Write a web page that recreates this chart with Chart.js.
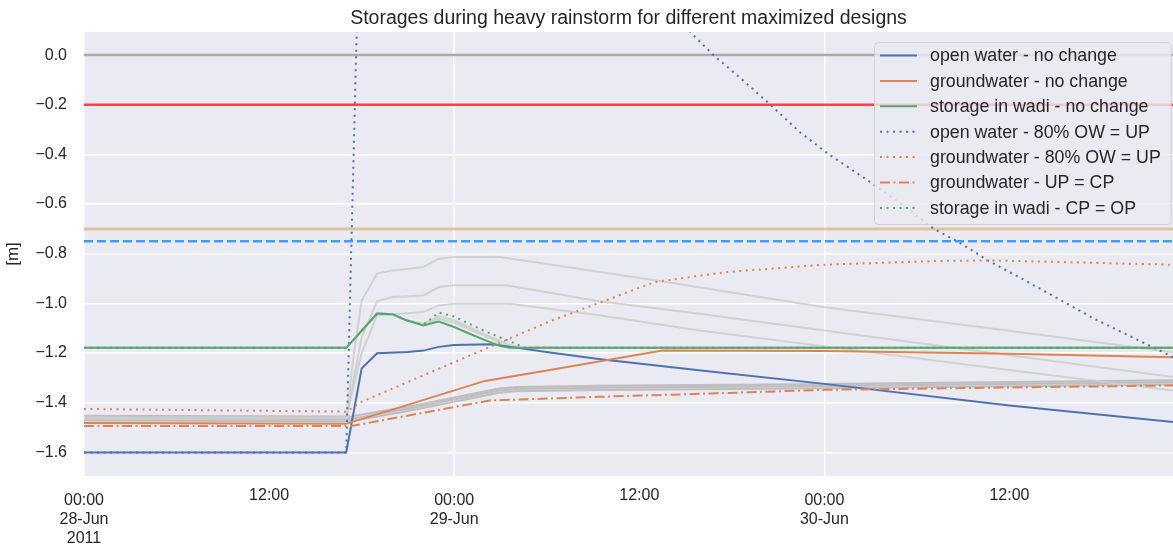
<!DOCTYPE html>
<html>
<head>
<meta charset="utf-8">
<script src="https://cdn.jsdelivr.net/npm/chart.js@4.4.1/dist/chart.umd.min.js"></script>
<style>
  html, body { margin: 0; padding: 0; background: #fff; }
  #wrap { width: 1173px; height: 549px; }
</style>
</head>
<body>
<div id="wrap"><canvas id="storageChart"></canvas></div>
<script>
// x values are hours since 28-Jun-2011 00:00
const xTickHours = [0, 12, 24, 36, 48, 60];
const xTickLabels = [['00:00', '28-Jun', '2011'], '12:00', ['00:00', '29-Jun'], '12:00', ['00:00', '30-Jun'], '12:00'];
const yTickValues = [0.0, -0.2, -0.4, -0.6, -0.8, -1.0, -1.2, -1.4, -1.6];

const legendLabels = [
  'open water - no change',
  'groundwater - no change',
  'storage in wadi - no change',
  'open water - 80% OW = UP',
  'groundwater - 80% OW = UP',
  'groundwater - UP = CP',
  'storage in wadi - CP = OP'
];

// reference levels [m]: surface, red limit, tan limit, dashed limit
const levelValues = [0.0, -0.2, -0.7, -0.75];

const openWaterNoChange = [[0, -1.6], [17, -1.6], [18, -1.262], [19, -1.201], [21, -1.196], [22, -1.19], [23, -1.175], [24, -1.167], [26.5, -1.164], [28, -1.178], [30.2, -1.198], [33.5, -1.225], [40, -1.27], [48, -1.324], [60, -1.411], [71, -1.48]];
const groundwaterNoChange = [[0, -1.482], [17, -1.485], [26, -1.312], [30.2, -1.268], [37.5, -1.19], [48, -1.192], [60, -1.203], [71, -1.217]];
const wadiNoChange = [[0, -1.179], [17, -1.179], [18, -1.11], [19, -1.041], [20, -1.044], [21, -1.07], [22, -1.089], [23, -1.073], [24, -1.095], [25, -1.122], [26, -1.148], [27, -1.172], [27.6, -1.179], [71, -1.179]];
const openWater80 = [[0, -1.6], [17, -1.6], [18, 0.9], [20, 1.15], [30, 0.75], [36, 0.33], [39.4, 0.087], [40.8, 0.0], [42.7, -0.10], [44.5, -0.20], [46.4, -0.31], [48.3, -0.40], [50.7, -0.50], [53, -0.60], [55.1, -0.70], [56.7, -0.753], [58.6, -0.827], [61, -0.907], [65.5, -1.062], [71, -1.228]];
const groundwater80 = [[0, -1.425], [17, -1.436], [18, -1.396], [30.2, -1.072], [37, -0.914], [41.6, -0.874], [48, -0.844], [55.3, -0.829], [58.7, -0.827], [63.3, -0.833], [71, -0.845]];
const groundwaterUpCp = [[0, -1.494], [17.3, -1.494], [26.3, -1.391], [33.4, -1.376], [40, -1.364], [48, -1.348], [71, -1.33]];
const wadiCpOp = [[0, -1.179], [17, -1.179], [18, -1.11], [19, -1.041], [20, -1.044], [21, -1.07], [22, -1.086], [23, -1.037], [24, -1.053], [26, -1.112], [27.5, -1.15], [28.6, -1.179], [71, -1.179]];

// other designs, drawn in grey
const grayHigh = [[0, -1.46], [17, -1.46], [17.5, -1.2], [18, -0.99], [19, -0.88], [20, -0.867], [22, -0.853], [23, -0.82], [24, -0.813], [27, -0.813], [37, -0.907], [48, -1.015], [60, -1.11], [71, -1.2]];
const grayMid = [[0, -1.46], [17, -1.46], [18, -1.136], [19, -0.991], [20, -0.974], [22, -0.968], [23, -0.934], [24, -0.927], [27.4, -0.927], [33.4, -0.991], [39.9, -1.042], [48, -1.109], [60, -1.209], [71, -1.3]];
const grayLow = [[0, -1.46], [17, -1.46], [18, -1.2], [19, -1.048], [20.5, -1.042], [22, -1.035], [23, -1.008], [24, -1.001], [27.6, -1.001], [33.4, -1.048], [39.9, -1.109], [48, -1.173], [60, -1.268], [71, -1.354]];
const grayWadiA = [[0, -1.179], [17, -1.179], [19, -1.041], [20, -1.044], [21, -1.07], [22, -1.082], [23, -1.052], [24, -1.068], [26, -1.125], [27.5, -1.165], [28.4, -1.179], [71, -1.179]];
const grayWadiB = [[0, -1.179], [17, -1.179], [19, -1.041], [20, -1.044], [21, -1.07], [22, -1.085], [23, -1.062], [24, -1.078], [26, -1.132], [27.5, -1.17], [28.2, -1.179], [71, -1.179]];
const grayBundle1 = [[0, -1.452], [17.3, -1.455], [21.5, -1.41], [26.9, -1.343], [28, -1.337], [33.4, -1.332], [40, -1.329], [48, -1.325], [71, -1.309]];
const grayBundle2 = [[0, -1.462], [17.3, -1.465], [21.5, -1.418], [26.9, -1.351], [28, -1.345], [33.4, -1.34], [40, -1.337], [48, -1.333], [71, -1.317]];
const grayBundle3 = [[0, -1.472], [17.3, -1.475], [21.5, -1.427], [26.9, -1.36], [28, -1.354], [33.4, -1.349], [40, -1.346], [48, -1.342], [71, -1.326]];

const FONT = '"Liberation Sans", Arial, sans-serif';
const TEXT = '#262626';
const BLUE = '#4c72b0', ORANGE = '#dd8452', GREEN = '#55a868';
const DOT = [2, 4.5];
const DASHDOT = [10, 3.5, 2, 3.5];

const toPoints = arr => arr.map(([x, y]) => ({ x, y }));

function line(points, color, extra) {
  return Object.assign({
    data: toPoints(points),
    borderColor: color,
    borderWidth: 2,
    borderCapStyle: 'butt',
    pointRadius: 0,
    fill: false,
    tension: 0
  }, extra);
}

const colored = [
  line(openWaterNoChange, BLUE, { legendIndex: 0 }),
  line(groundwaterNoChange, ORANGE, { legendIndex: 1 }),
  line(wadiNoChange, GREEN, { legendIndex: 2 }),
  line(openWater80, BLUE, { legendIndex: 3, borderDash: DOT }),
  line(groundwater80, ORANGE, { legendIndex: 4, borderDash: DOT }),
  line(groundwaterUpCp, ORANGE, { legendIndex: 5, borderDash: DASHDOT }),
  line(wadiCpOp, GREEN, { legendIndex: 6, borderDash: DOT })
].reverse();

const levelStyles = [
  { borderColor: '#aaaaaa', borderWidth: 2.5 },
  { borderColor: 'rgba(255,20,20,0.8)', borderWidth: 2.5 },
  { borderColor: 'rgba(222,184,135,0.8)', borderWidth: 3 },
  { borderColor: 'rgba(30,144,255,0.85)', borderWidth: 2.5, borderDash: [9, 4] }
];
const levels = levelValues.map((v, i) => line([[0, v], [71, v]], levelStyles[i].borderColor, levelStyles[i]));

const lightGray = 'rgba(205,205,205,0.85)';
const darkGray = 'rgba(160,160,160,0.6)';
const grays = [
  line(grayWadiA, lightGray),
  line(grayWadiB, lightGray),
  line(grayHigh, lightGray),
  line(grayMid, lightGray),
  line(grayLow, lightGray),
  line(grayBundle1, darkGray),
  line(grayBundle2, darkGray),
  line(grayBundle3, darkGray)
];

const plotBackground = {
  id: 'plotBackground',
  beforeDraw(chart) {
    const { ctx, chartArea: a } = chart;
    ctx.save();
    ctx.fillStyle = '#eaeaf2';
    ctx.fillRect(a.left, a.top, a.width, a.height);
    ctx.restore();
  }
};

const insideLegend = {
  id: 'insideLegend',
  afterDraw(chart) {
    const { ctx, chartArea } = chart;
    const items = chart.data.datasets
      .filter(ds => ds.legendIndex !== undefined)
      .sort((a, b) => a.legendIndex - b.legendIndex);
    ctx.save();
    ctx.font = '17.8px ' + FONT;
    const textW = Math.max(...items.map(ds => ctx.measureText(legendLabels[ds.legendIndex]).width));
    const boxW = 56 + textW + 10;
    const boxH = 182;
    const left = Math.round(chartArea.right - 2 - boxW);
    const top = 42;
    ctx.beginPath();
    ctx.roundRect(left + 0.5, top + 0.5, boxW, boxH, 4);
    ctx.fillStyle = 'rgba(234,234,242,0.8)';
    ctx.fill();
    ctx.strokeStyle = 'rgba(204,204,204,0.8)';
    ctx.lineWidth = 1;
    ctx.stroke();
    items.forEach((ds, i) => {
      const y = top + 13.5 + i * 25.4;
      ctx.beginPath();
      ctx.setLineDash(ds.borderDash || []);
      ctx.lineCap = 'butt';
      ctx.strokeStyle = ds.borderColor;
      ctx.lineWidth = ds.borderWidth;
      ctx.moveTo(left + 6, y);
      ctx.lineTo(left + 43, y);
      ctx.stroke();
      ctx.setLineDash([]);
      ctx.fillStyle = TEXT;
      ctx.textBaseline = 'middle';
      ctx.fillText(legendLabels[ds.legendIndex], left + 56, y + 1);
    });
    ctx.restore();
  }
};

new Chart(document.getElementById('storageChart'), {
  type: 'line',
  data: { datasets: colored.concat(levels, grays) },
  plugins: [plotBackground, insideLegend],
  options: {
    responsive: true,
    maintainAspectRatio: false,
    animation: false,
    layout: { padding: 0 },
    plugins: {
      legend: { display: false },
      tooltip: { enabled: false },
      title: {
        display: true,
        text: 'Storages during heavy rainstorm for different maximized designs',
        fullSize: false,
        color: TEXT,
        font: { family: FONT, size: 19.5, weight: 'normal', lineHeight: 1.2 },
        padding: { top: 7, bottom: 1.6 }
      }
    },
    scales: {
      x: {
        type: 'linear',
        min: 0,
        max: 70.6,
        border: { display: false },
        grid: {
          drawTicks: false,
          lineWidth: 1.5,
          color: c => (c.tick && c.tick.value % 24 === 0) ? '#ffffff' : 'rgba(0,0,0,0)'
        },
        afterBuildTicks: s => { s.ticks = xTickHours.map(v => ({ value: v })); },
        afterFit: s => { s.height = 73; },
        ticks: {
          autoSkip: false,
          maxRotation: 0,
          padding: 15.3,
          color: TEXT,
          font: c => ({
            family: FONT,
            size: 16,
            lineHeight: (c.tick && c.tick.value % 24 !== 0) ? 0.59 : 1.17
          }),
          callback: v => xTickLabels[xTickHours.indexOf(v)]
        }
      },
      y: {
        min: -1.695,
        max: 0.093,
        border: { display: false },
        grid: { drawTicks: false, lineWidth: 1.5, color: '#ffffff' },
        afterBuildTicks: s => { s.ticks = yTickValues.map(v => ({ value: v })); },
        afterFit: s => { s.width = 84; },
        ticks: {
          padding: 17,
          color: TEXT,
          font: { family: FONT, size: 16 },
          callback: v => v.toFixed(1).replace('-', '\u2212')
        },
        title: {
          display: true,
          text: '[m]',
          color: TEXT,
          font: { family: FONT, size: 17, lineHeight: 1.2 },
          padding: { top: 2.8, bottom: 0 }
        }
      }
    }
  }
});
</script>
</body>
</html>
